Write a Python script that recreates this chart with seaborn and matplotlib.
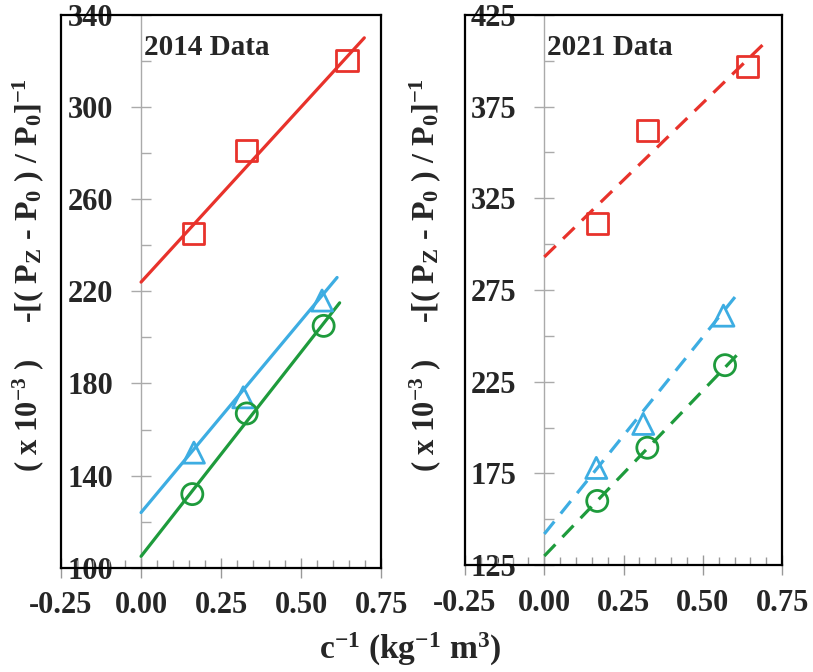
import numpy as np
import matplotlib
matplotlib.use("Agg")
import matplotlib.pyplot as plt
import seaborn as sns
from matplotlib.ticker import MultipleLocator, FormatStrFormatter

sns.set_theme(style="white")
plt.rcParams["font.family"] = ["Liberation Serif", "DejaVu Serif"]
plt.rcParams["font.weight"] = "bold"
plt.rcParams["mathtext.fontset"] = "custom"
plt.rcParams["mathtext.rm"] = "Liberation Serif:bold"
plt.rcParams["mathtext.it"] = "Liberation Serif:bold"
plt.rcParams["mathtext.bf"] = "Liberation Serif:bold"

# DATA
x_red_2014 = [0.163, 0.328, 0.643]
y_red_2014 = [245, 281, 320]
x_blue_2014 = [0.165, 0.319, 0.565]
y_blue_2014 = [150, 174, 216]
x_green_2014 = [0.160, 0.330, 0.570]
y_green_2014 = [132, 167, 205]

fit_red_2014 = ([0.0, 0.697], [224, 330])
fit_blue_2014 = ([0.0, 0.612], [124, 226])
fit_green_2014 = ([0.0, 0.620], [105, 215])

x_red_2021 = [0.167, 0.325, 0.640]
y_red_2021 = [311, 362, 397]
x_blue_2021 = [0.164, 0.312, 0.565]
y_blue_2021 = [178, 202, 261]
x_green_2021 = [0.167, 0.325, 0.570]
y_green_2021 = [160, 189, 234]

fit_red_2021 = ([0.0, 0.697], [293, 410])
fit_blue_2021 = ([0.0, 0.610], [142, 273])
fit_green_2021 = ([0.0, 0.610], [130, 240])

yticks_2014 = [100, 140, 180, 220, 260, 300, 340]
yticks_2021 = [125, 175, 225, 275, 325, 375, 425]
xticks = [-0.25, 0.0, 0.25, 0.50, 0.75]

RED = "#E8322B"
BLUE = "#3DADE2"
GREEN = "#1E9B3C"

YLAB_MAIN = r"-[( P$_{Z}$ - P$_{0}$ ) / P$_{0}$]$^{-1}$"
YLAB_SUB = r"( x 10$^{-3}$ )"

fig = plt.figure(figsize=(8.13, 6.72), dpi=100)
ax1 = fig.add_axes([0.075, 0.155, 0.394, 0.823])
ax2 = fig.add_axes([0.572, 0.159, 0.390, 0.819])


def draw_panel(ax, series, fits, yticks, title, dashed):
    for (xs, ys, c, m), (fx, fy) in zip(series, fits):
        sns.lineplot(x=fx, y=fy, color=c, linewidth=2.3, ax=ax)
        if dashed:
            ax.lines[-1].set_dashes((5.0, 3.2))
        sns.scatterplot(x=xs, y=ys, marker=m, s=230, facecolor="none",
                        edgecolor=c, linewidth=2.0, ax=ax, zorder=3)
    ax.set_xlim(xticks[0], xticks[-1])
    ax.set_ylim(yticks[0], yticks[-1])
    for sp in ax.spines.values():
        sp.set_visible(True)
        sp.set_color("black")
        sp.set_linewidth(1.6)
    ax.tick_params(axis="y", left=False, labelleft=False)
    ax.set_xticks(xticks)
    ax.xaxis.set_minor_locator(MultipleLocator(0.05))
    ax.tick_params(axis="x", which="major", bottom=True, direction="inout",
                   length=14, width=1, color="#999999", labelsize=22, pad=10)
    ax.tick_params(axis="x", which="minor", bottom=True, direction="in",
                   length=6, width=1, color="#999999")
    ax.xaxis.set_major_formatter(FormatStrFormatter("%.2f"))
    for lab in ax.get_xticklabels():
        lab.set_fontweight("bold")

    # gray y axis drawn at x = 0
    sec = ax.secondary_yaxis(0.25)
    sec.spines["left"].set_color("#AAAAAA")
    sec.spines["left"].set_linewidth(1.0)
    sec.set_yticks(yticks)
    step = yticks[1] - yticks[0]
    sec.yaxis.set_minor_locator(MultipleLocator(step / 2))
    sec.tick_params(axis="y", which="major", direction="inout", length=14,
                    width=1, color="#AAAAAA", labelsize=22, pad=13)
    sec.tick_params(axis="y", which="minor", direction="in", length=7,
                    width=1, color="#AAAAAA")
    for lab in sec.get_yticklabels():
        lab.set_fontweight("bold")

    ax.text(0.26, 0.94, title, transform=ax.transAxes, fontsize=21,
            fontweight="bold", ha="left", va="center")
    ax.set_xlabel("")
    ax.set_ylabel("")


draw_panel(ax1,
           [(x_red_2014, y_red_2014, RED, "s"),
            (x_blue_2014, y_blue_2014, BLUE, "^"),
            (x_green_2014, y_green_2014, GREEN, "o")],
           [fit_red_2014, fit_blue_2014, fit_green_2014],
           yticks_2014, "2014 Data", False)

draw_panel(ax2,
           [(x_red_2021, y_red_2021, RED, "s"),
            (x_blue_2021, y_blue_2021, BLUE, "^"),
            (x_green_2021, y_green_2021, GREEN, "o")],
           [fit_red_2021, fit_blue_2021, fit_green_2021],
           yticks_2021, "2021 Data", True)

for xc in (0.034, 0.523):
    fig.text(xc, 0.702, YLAB_MAIN, rotation=90, ha="center", va="center",
             fontsize=23, fontweight="bold")
    fig.text(xc, 0.382, YLAB_SUB, rotation=90, ha="center", va="center",
             fontsize=22, fontweight="bold")

fig.text(0.505, 0.033, r"c$^{-1}$ (kg$^{-1}$ m$^{3}$)", ha="center",
         va="center", fontsize=24, fontweight="bold")

fig.savefig("out.png", dpi=100)
